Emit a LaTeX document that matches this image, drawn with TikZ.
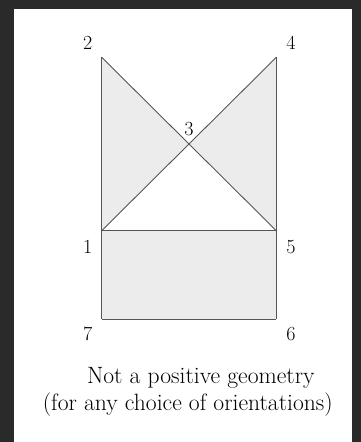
\documentclass[tikz,border=0pt]{standalone}
\usepackage{tikz}
\definecolor{bgdark}{HTML}{2A2A2A}
\definecolor{fillgray}{HTML}{ECECEC}
\definecolor{edgegray}{HTML}{555555}
\tikzset{
  lbl/.style={inner sep=0pt, font=\fontsize{20}{22}\selectfont},
  captext/.style={inner sep=0pt, font=\fontsize{23.6}{27}\selectfont},
  edgeline/.style={draw=edgegray, line width=0.9pt},
}
\begin{document}
\begin{tikzpicture}[x=1pt,y=-1pt]
\useasboundingbox (0,0) rectangle (361,442);
\fill[bgdark] (0,0) rectangle (361,442);
\fill[white] (14,9) rectangle (352,442);
\coordinate (p2) at (101.7,57.3);
\coordinate (p4) at (276.3,57.3);
\coordinate (p1) at (101.7,230.7);
\coordinate (p5) at (276.3,230.7);
\coordinate (p7) at (101.7,319);
\coordinate (p6) at (276.3,319);
\coordinate (p3) at (189,144);
\fill[fillgray] (p2) -- (p3) -- (p1) -- cycle;
\fill[fillgray] (p4) -- (p3) -- (p5) -- cycle;
\fill[fillgray] (p1) -- (p5) -- (p6) -- (p7) -- cycle;
\draw[edgeline] (p2) -- (p5);
\draw[edgeline] (p4) -- (p1);
\draw[edgeline] (p2) -- (p7);
\draw[edgeline] (p4) -- (p6);
\draw[edgeline] (p1) -- (p5);
\draw[edgeline] (p7) -- (p6);
\node[lbl] (l2) at (87.7,42.7) {2};
\node[lbl] (l4) at (291,42.7) {4};
\node[lbl] (l3) at (189,129.3) {3};
\node[lbl] (l1) at (87.7,246.7) {1};
\node[lbl] (l5) at (291,246.7) {5};
\node[lbl] (l7) at (87.7,334.3) {7};
\node[lbl] (l6) at (291,334.3) {6};
\node[captext] (c1) at (200.8,378.3) {Not a positive geometry};
\node[captext] (c2) at (187.8,405) {(for any choice of orientations)};
\end{tikzpicture}
\end{document}
